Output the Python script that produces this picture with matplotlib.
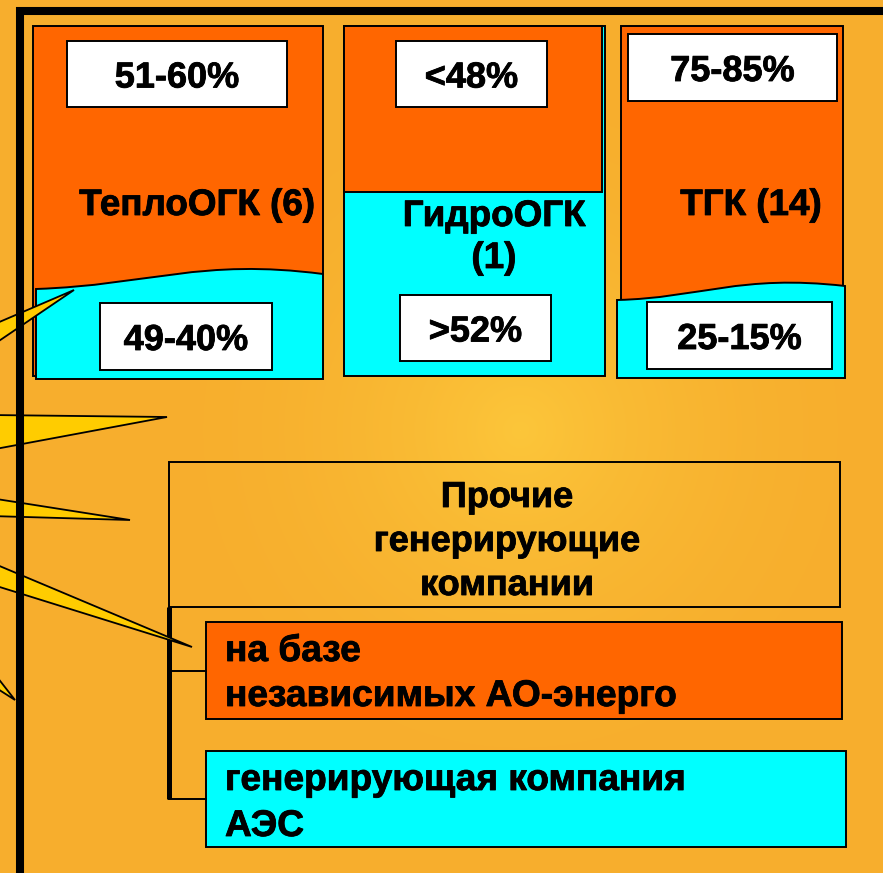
import numpy as np
import matplotlib
matplotlib.use("Agg")
import matplotlib.pyplot as plt
from matplotlib.patches import Rectangle, Polygon, PathPatch
from matplotlib.path import Path
from matplotlib.colors import LinearSegmentedColormap
import matplotlib.patheffects as pe

# ---------------- data ----------------
groups = ["ТеплоОГК (6)", "ГидроОГК\n(1)", "ТГК (14)"]
upper_share = ["51-60%", "<48%", "75-85%"]
lower_share = ["49-40%", ">52%", "25-15%"]
other_title = "Прочие\nгенерирующие\nкомпании"
other_items = ["на базе\nнезависимых АО-энерго", "генерирующая компания\nАЭС"]

# ---------------- style ----------------
ORANGE = "#FF6600"
CYAN = "#00FFFF"
YELLOW = "#FFCC00"
BG = "#F7AE2D"
FONT = ["Liberation Sans", "DejaVu Sans"]
plt.rcParams["font.family"] = FONT

W, H = 883, 873
fig = plt.figure(figsize=(W / 100, H / 100), dpi=100)
ax = fig.add_axes([0, 0, 1, 1])
ax.set_xlim(0, W)
ax.set_ylim(H, 0)
ax.axis("off")

# background with soft glow
yy, xx = np.mgrid[0:H, 0:W]
r = np.sqrt(((xx - 520) / 400.0) ** 2 + ((yy - 430) / 400.0) ** 2)
g = np.clip(1 - r, 0, 1) ** 2
cmap = LinearSegmentedColormap.from_list("bg", [BG, "#FCC63A"])
ax.imshow(g, cmap=cmap, extent=(0, W, H, 0), aspect="auto", zorder=0, vmin=0, vmax=1)

LW = 1.4
BOLDER = [pe.Stroke(linewidth=0.6, foreground="black"), pe.Normal()]


def rect(x0, y0, x1, y1, fc, lw=LW, z=2):
    ax.add_patch(Rectangle((x0, y0), x1 - x0, y1 - y0, facecolor=fc,
                           edgecolor="black", linewidth=lw, zorder=z))


def wave_shape(x0, x1, ybot, p0y, c1, c2, p3y, fc, z=3):
    verts = [(x0, p0y), c1, c2, (x1, p3y), (x1, ybot), (x0, ybot), (x0, p0y)]
    codes = [Path.MOVETO, Path.CURVE4, Path.CURVE4, Path.CURVE4,
             Path.LINETO, Path.LINETO, Path.CLOSEPOLY]
    ax.add_patch(PathPatch(Path(verts, codes), facecolor=fc, edgecolor="black",
                           linewidth=LW, zorder=z))


def txt(x, y, s, size, ha="center", z=6):
    ax.text(x, y, s, fontsize=size, fontweight="bold", ha=ha, va="baseline",
            color="black", zorder=z, family=FONT, path_effects=BOLDER)


# ---- column 1: ТеплоОГК
rect(33, 26, 323, 376, ORANGE)
wave_shape(36, 323, 379, 289, (150, 285), (200, 258), 274, CYAN)
# ---- column 2: ГидроОГК
rect(344, 26, 605, 376, CYAN)
rect(344, 26, 602, 192, ORANGE)
# ---- column 3: ТГК
rect(621, 26, 843, 372, ORANGE)
wave_shape(617, 845, 378, 300, (700, 298), (740, 274), 286, CYAN)

PCT = 26
upper_boxes = [(67, 41, 287, 107), (396, 41, 547, 107), (628, 34, 837, 101)]
lower_boxes = [(100, 303, 272, 370), (400, 295, 551, 361), (647, 302, 832, 369)]
for (b, s) in zip(upper_boxes, upper_share):
    rect(*b, "white", z=4)
    cx, cy = (b[0] + b[2]) / 2, (b[1] + b[3]) / 2
    txt(cx, cy + 13.5, s, PCT)
for (b, s) in zip(lower_boxes, lower_share):
    rect(*b, "white", z=4)
    cx, cy = (b[0] + b[2]) / 2, (b[1] + b[3]) / 2
    txt(cx, cy + 13.5, s, PCT)

LBL = 26.5
label_pos = [(197, [215]), (494, [226, 268]), (751, [215])]
for (x, ys), s in zip(label_pos, groups):
    for yb, line in zip(ys, s.split("\n")):
        txt(x, yb, line, LBL)

# ---- lower section
ax.add_patch(Rectangle((169, 462), 840 - 169, 607 - 462, facecolor="none",
                       edgecolor="black", linewidth=LW, zorder=2))
for yb, line in zip([507, 551, 595], other_title.split("\n")):
    txt(507, yb, line, 26)

rect(206, 622, 842, 719, ORANGE)
rect(206, 751, 846, 847, CYAN)
item_bases = [[661, 706], [790, 836]]
for ys, s in zip(item_bases, other_items):
    for yb, line in zip(ys, s.split("\n")):
        txt(225, yb, line, 26.7, ha="left")

# bracket
ax.plot([169, 169], [607, 799], color="black", lw=3.6, zorder=3, solid_capstyle="butt")
ax.plot([169, 206], [671, 671], color="black", lw=1.4, zorder=3)
ax.plot([169, 206], [799, 799], color="black", lw=1.4, zorder=3)

# ---- starburst spikes from the left
star = [(-40, 310), (-10, 326), (74, 290), (-10, 347),
        (-10, 415), (167, 417), (-10, 450),
        (-10, 498), (130, 520), (-10, 516),
        (-10, 562), (192, 647), (-10, 584),
        (-10, 668), (15, 700), (-10, 684), (-40, 700)]
ax.add_patch(Polygon(star, closed=True, facecolor=YELLOW, edgecolor="black",
                     linewidth=1.3, zorder=5, joinstyle="miter"))

# ---- frame
ax.plot([16, W + 5], [11, 11], color="black", lw=5.8, zorder=7, solid_capstyle="butt")
ax.plot([20, 20], [7, H + 5], color="black", lw=5.8, zorder=7, solid_capstyle="butt")

fig.savefig("out.png", dpi=100)
